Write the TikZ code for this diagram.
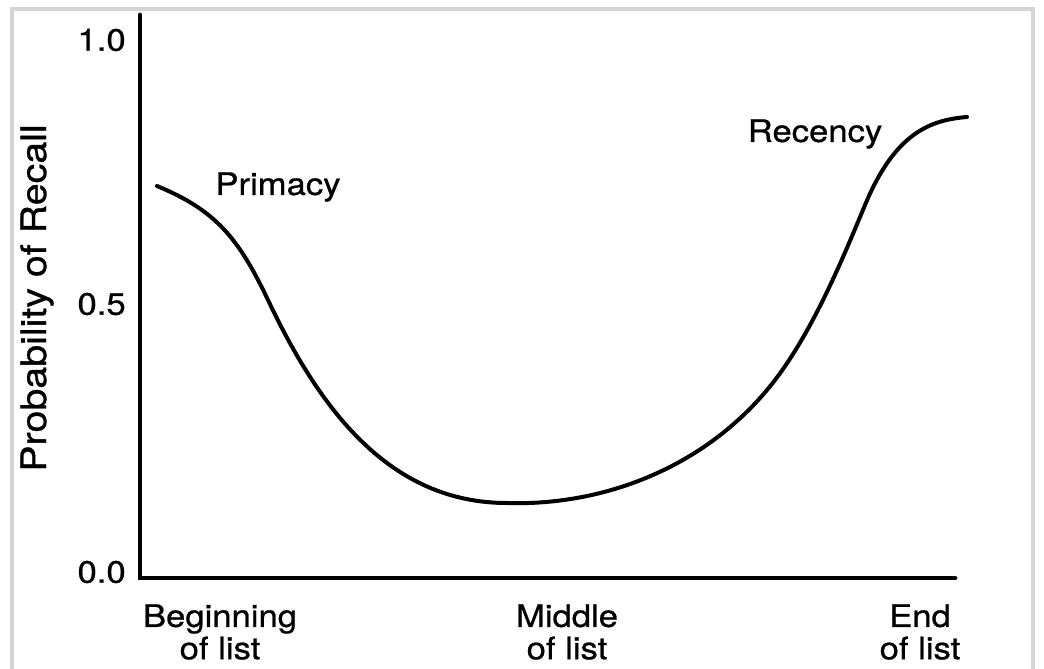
\documentclass[tikz,border=0pt]{standalone}
\usepackage{fontspec}
\setmainfont{TeX Gyre Heros}[FakeStretch=1.12, FakeBold=0.8]
\usepackage{tikz}
\definecolor{FrameGray}{HTML}{D4D4D4}

\begin{document}
\begin{tikzpicture}[x=0.025cm, y=-0.025cm,
		axis/.style={line width=1.2mm, line cap=round},
		lbl/.style={font=\fontsize{22}{25}\selectfont, inner sep=0pt, align=center}]
			\useasboundingbox (0,0) rectangle (1044,669);

			% frame
			\draw[FrameGray, line width=.8mm] (12,669) -- (12,9) -- (1033,9) -- (1033,669);

			% axes
			\coordinate (origin) at (140,578);
			\coordinate (ytop) at (140,15);
			\coordinate (xend) at (955,578);
			\draw[axis] (ytop) -- (origin) -- (xend);

			% tick labels
			\node[lbl, anchor=east] (one) at (126,40) {1.0};
			\node[lbl, anchor=east] (half) at (126,304) {0.5};
			\node[lbl, anchor=east] (zero) at (126,572) {0.0};
			\node[lbl, font=\fontsize{25}{28}\selectfont, rotate=90] (ylabel) at (37,298) {Probability of Recall};

			% list positions
			\node[lbl] (beginning) at (220,632) {Beginning\\[-2pt]of list};
			\node[lbl] (middle) at (567,632) {Middle\\[-2pt]of list};
			\node[lbl] (end) at (920,632) {End\\[-2pt]of list};

			% serial position curve
			\draw[line width=1mm, line cap=round] (157,186)
				.. controls (215,210) and (238,237) .. (268,300)
				.. controls (320,410) and (390,503) .. (507,503)
				.. controls (600,506) and (700,470) .. (767,390)
				.. controls (810,339) and (843,258) .. (865,205)
				.. controls (895,133) and (930,120) .. (967,117);
			\node[lbl] (primacy) at (278,187) {Primacy};
			\node[lbl] (recency) at (815,134) {Recency};

		\end{tikzpicture}
\end{document}
